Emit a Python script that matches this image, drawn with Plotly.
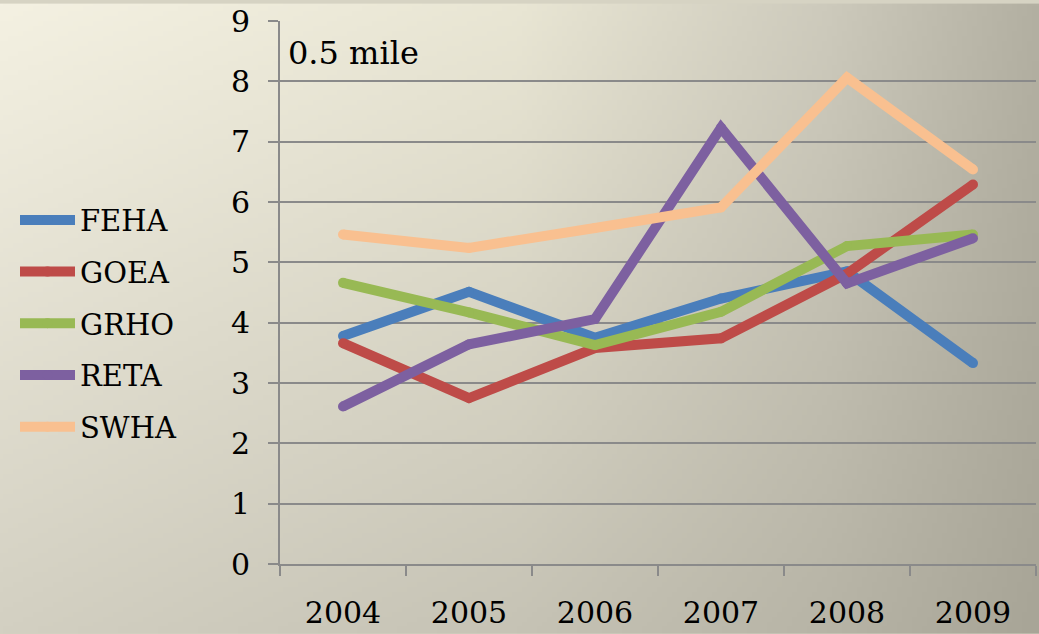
import base64
import struct
import zlib

import numpy as np
import plotly.graph_objects as go

# ---- data -------------------------------------------------------------
years = ["2004", "2005", "2006", "2007", "2008", "2009"]
series_names = ["FEHA", "GOEA", "GRHO", "RETA", "SWHA"]
feha = [3.78, 4.51, 3.75, 4.40, 4.85, 3.33]
goea = [3.66, 2.75, 3.58, 3.74, 4.81, 6.29]
grho = [4.66, 4.17, 3.63, 4.18, 5.27, 5.46]
reta = [2.61, 3.64, 4.06, 7.23, 4.65, 5.40]
swha = [5.46, 5.24, 5.57, 5.91, 8.06, 6.54]
y_ticks = [0, 1, 2, 3, 4, 5, 6, 7, 8, 9]

colors = ["#4A7EBB", "#BE4B48", "#98B954", "#7D60A0", "#F9C090"]
values = [feha, goea, grho, reta, swha]

# ---- page geometry ----------------------------------------------------
W, H = 1039, 634
ML, MR, MT, MB = 280, 3, 17.5, 70
PW, PH = W - ML - MR, H - MT - MB


def png_data_uri(rgb):
    """Encode an (h, w, 3) uint8 array as a PNG data URI."""
    h, w, _ = rgb.shape
    raw = b"".join(b"\x00" + rgb[r].tobytes() for r in range(h))

    def chunk(tag, data):
        c = struct.pack(">I", len(data)) + tag + data
        return c + struct.pack(">I", zlib.crc32(tag + data) & 0xFFFFFFFF)

    png = b"\x89PNG\r\n\x1a\n"
    png += chunk(b"IHDR", struct.pack(">IIBBBBB", w, h, 8, 2, 0, 0, 0))
    png += chunk(b"IDAT", zlib.compress(raw, 9))
    png += chunk(b"IEND", b"")
    return "data:image/png;base64," + base64.b64encode(png).decode()


# soft background shading: light cream at the top-left, greyer to the right/bottom
gw, gh = 208, 128
xs = np.linspace(0, 1, gw)
ys = np.linspace(0, 1, gh)
stops = [0.0, 0.5, 0.8, 1.0]
top = np.array([[244, 241, 226], [233, 230, 212], [205, 202, 188], [179, 176, 162]], float)
bot = np.array([[211, 208, 194], [198, 195, 181], [183, 180, 166], [168, 165, 151]], float)
top_row = np.stack([np.interp(xs, stops, top[:, k]) for k in range(3)], axis=1)
bot_row = np.stack([np.interp(xs, stops, bot[:, k]) for k in range(3)], axis=1)
grad = top_row[None, :, :] * (1 - ys[:, None, None]) + bot_row[None, :, :] * ys[:, None, None]
bg_uri = png_data_uri(np.clip(grad, 0, 255).astype(np.uint8))

font_family = "DejaVu Serif"

fig = go.Figure()
for name, vals, col in zip(series_names, values, colors):
    fig.add_trace(
        go.Scatter(
            x=years,
            y=vals,
            name=name,
            mode="lines+markers",
            line=dict(color=col, width=10),
            marker=dict(color=col, size=10, line=dict(width=0)),
            legendgroup=name,
        )
    )

axis_grey = "#8A8A8A"
fig.update_layout(
    width=W,
    height=H,
    margin=dict(l=ML, r=MR, t=MT, b=MB),
    paper_bgcolor="#D6D3C3",
    plot_bgcolor="rgba(0,0,0,0)",
    font=dict(family=font_family, size=30, color="#000000"),
    showlegend=True,
    legend=dict(
        x=-(ML - 15) / PW,
        xanchor="left",
        y=(H - MB - 322) / PH,
        yanchor="middle",
        bgcolor="rgba(0,0,0,0)",
        font=dict(family=font_family, size=29, color="#000000"),
        tracegroupgap=11,
        itemwidth=55,
    ),
    images=[
        dict(
            source=bg_uri,
            xref="paper",
            yref="paper",
            x=-ML / PW,
            y=1 + MT / PH,
            sizex=W / PW,
            sizey=H / PH,
            xanchor="left",
            yanchor="top",
            sizing="stretch",
            layer="below",
        )
    ],
    annotations=[
        dict(
            text="0.5 mile",
            xref="paper",
            yref="y",
            x=6 / PW,
            y=8.47,
            xanchor="left",
            yanchor="middle",
            showarrow=False,
            font=dict(family=font_family, size=32, color="#000000"),
        )
    ],
)

fig.update_xaxes(
    type="category",
    range=[-0.5, 5.5],
    showgrid=False,
    showline=True,
    linecolor=axis_grey,
    linewidth=2,
    ticks="outside",
    tickson="boundaries",
    ticklen=10,
    tickwidth=2,
    tickcolor=axis_grey,
    ticklabelstandoff=21,
    tickfont=dict(family=font_family, size=30),
    zeroline=False,
)
fig.update_yaxes(
    range=[0, 9],
    tickvals=y_ticks,
    showgrid=True,
    gridcolor=axis_grey,
    gridwidth=2,
    showline=True,
    linecolor=axis_grey,
    linewidth=2,
    ticks="outside",
    ticklen=10,
    tickwidth=2,
    tickcolor=axis_grey,
    ticklabelstandoff=12,
    tickfont=dict(family=font_family, size=30),
    zeroline=False,
)

fig.write_html("out.html")
